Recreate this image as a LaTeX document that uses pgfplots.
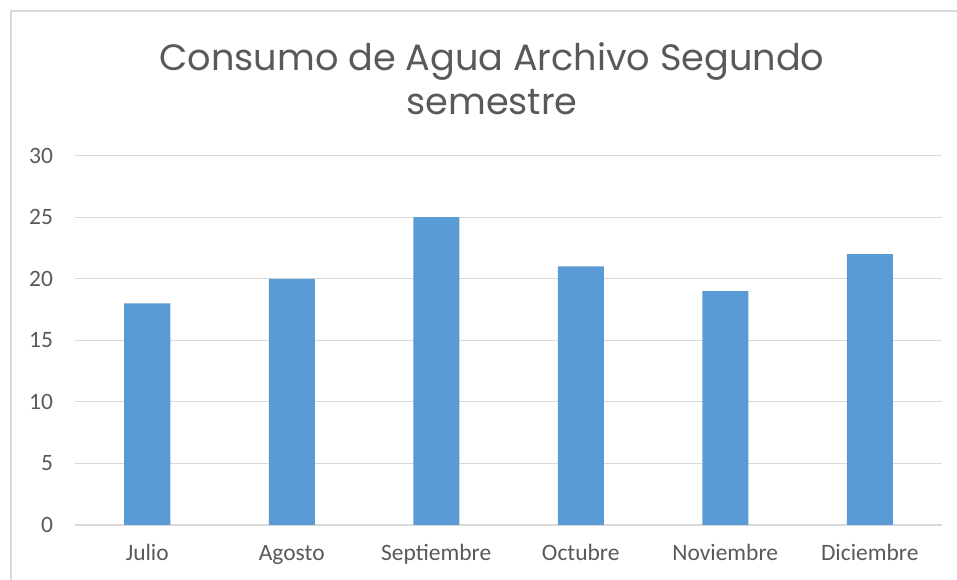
\documentclass[border=0pt]{standalone}
\usepackage{fontspec}
\setmainfont{Carlito}
\newfontfamily\titlefont{Poppins}
\usepackage{pgfplots}
\pgfplotsset{compat=1.18}
\definecolor{barblue}{HTML}{5B9BD5}
\definecolor{gridgray}{HTML}{D9D9D9}
\definecolor{txtgray}{HTML}{595959}

\begin{document}
\begin{tikzpicture}
% canvas: 957x580 px at 0.75pt per px
\path[use as bounding box] (0,0) rectangle (717.75pt,435pt);
\draw[gridgray,line width=1.2pt] (8.25pt,0) -- (8.25pt,426.75pt) -- (717.75pt,426.75pt);
\node[font=\titlefont\fontsize{27.5}{33}\selectfont,text=txtgray,align=center,anchor=north]
  at (369pt,406.5pt) {Consumo de Agua Archivo Segundo\\semestre};
\begin{axis}[
  at={(56.25pt,41.25pt)},anchor=south west,
  scale only axis,width=650.25pt,height=277pt,
  ybar,bar width=34.5pt,
  xmin=-0.5,xmax=5.5,ymin=0,ymax=30,
  ytick={0,5,...,30},
  xtick=data,
  xticklabels={Julio,Agosto,Septiembre,Octubre,Noviembre,Diciembre},
  axis line style={draw=none},
  major tick length=0pt,
  ymajorgrids=true,grid style={gridgray,line width=0.9pt},
  tick label style={font=\fontsize{17.6}{20}\selectfont,text=txtgray},
  /pgf/number format/assume math mode=true,
  xticklabel style={yshift=-11pt,text height=12pt,text depth=3pt},
  yticklabel style={xshift=-13pt},
]
\addplot[fill=barblue,draw=none] coordinates {(0,18) (1,20) (2,25) (3,21) (4,19) (5,22)};
\end{axis}
\end{tikzpicture}
\end{document}
